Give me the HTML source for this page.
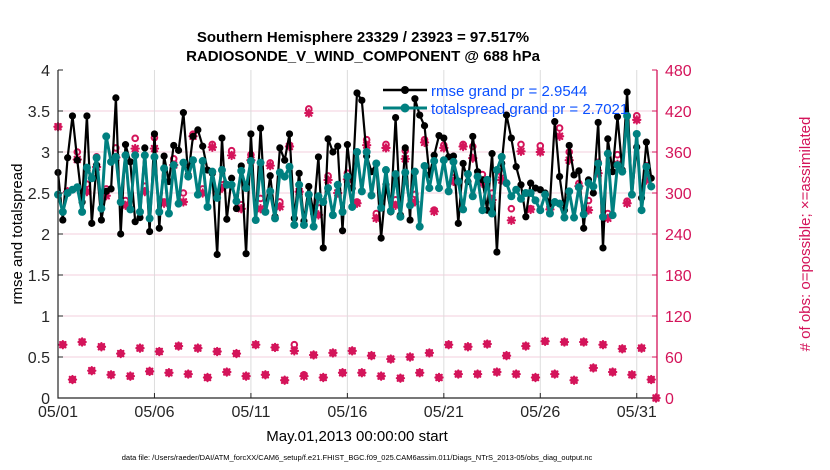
<!DOCTYPE html>
<html><head><meta charset="utf-8"><style>
body{margin:0;background:#fff;}
svg{display:block;font-family:"Liberation Sans",Arial,sans-serif;}
</style></head><body>
<svg id="chart" width="830" height="470" viewBox="0 0 830 470" xmlns="http://www.w3.org/2000/svg">
<rect x="0" y="0" width="830" height="470" fill="#fff"/>
<g id="grid"></g>
<g id="marks"></g>
<g id="axes"></g>
<text x="363" y="42" text-anchor="middle" font-size="15" font-weight="bold">Southern Hemisphere 23329 / 23923 = 97.517%</text>
<text x="363" y="61" text-anchor="middle" font-size="15" font-weight="bold">RADIOSONDE_V_WIND_COMPONENT @ 688 hPa</text>
<text transform="translate(22,234) rotate(-90)" text-anchor="middle" font-size="15">rmse and totalspread</text>
<text transform="translate(810,234) rotate(-90)" text-anchor="middle" font-size="15" fill="#d4145a"># of obs: o=possible; ×=assimilated</text>
<text x="357" y="441" text-anchor="middle" font-size="15">May.01,2013 00:00:00 start</text>
<text x="357" y="460" text-anchor="middle" font-size="7.5">data file: /Users/raeder/DAI/ATM_forcXX/CAM6_setup/f.e21.FHIST_BGC.f09_025.CAM6assim.011/Diags_NTrS_2013-05/obs_diag_output.nc</text>
<g id="legend">
<g>
<line x1="383" y1="90" x2="427" y2="90" stroke="#000" stroke-width="2.5"/>
<circle cx="405" cy="90" r="4" fill="#000"/>
<text x="431" y="96" font-size="15" fill="#0a50ff">rmse grand pr = 2.9544</text>
</g>
<g>
<line x1="383" y1="108" x2="427" y2="108" stroke="#008080" stroke-width="3"/>
<circle cx="405" cy="108" r="4.5" fill="#008080"/>
<text x="431" y="114" font-size="15" fill="#0a50ff">totalspread grand pr = 2.7021</text>
</g>
</g>
</svg>
<script>
const rmse=[2.75,2.17,2.93,3.44,2.9,2.39,3.44,2.13,2.84,2.17,2.52,2.55,3.66,2.0,3.09,2.88,2.15,2.2,3.05,2.03,3.22,2.07,
2.95,2.64,3.08,3.02,3.48,2.72,3.19,3.27,3.07,2.78,2.74,1.75,3.17,2.18,2.68,2.31,2.83,1.76,3.22,2.17,
3.29,2.27,2.71,2.21,3.05,2.9,3.22,2.19,2.74,2.16,2.58,2.25,2.94,1.83,3.16,3.0,3.07,2.04,3.09,2.56,
3.72,3.63,2.95,2.76,2.86,1.95,2.6,2.27,3.42,2.23,3.05,2.17,3.65,3.45,3.32,2.72,2.96,3.2,3.17,2.94,
2.95,2.13,2.86,2.64,3.19,2.76,2.66,2.29,2.98,1.78,2.86,3.45,3.17,2.82,2.6,2.21,2.62,2.56,2.54,2.5,2.37,
3.37,2.7,2.29,3.08,2.72,2.77,2.07,2.66,2.5,3.36,1.83,3.16,2.76,3.43,2.78,3.73,2.48,3.06,2.44,3.12,2.68];
const spread=[2.48,2.27,2.5,2.54,2.57,2.27,2.81,2.68,2.93,2.31,3.19,2.88,2.94,2.39,2.96,2.3,2.96,2.27,2.96,2.19,2.94,2.27,
2.8,2.25,2.84,2.37,2.87,2.7,2.9,2.48,2.89,2.33,2.76,2.44,2.78,2.6,2.6,2.4,2.77,2.56,2.89,2.17,
2.87,2.27,2.52,2.19,2.75,2.7,2.82,2.11,2.6,2.11,2.48,2.09,2.46,2.39,2.56,2.23,2.6,2.27,2.7,2.33,
3.0,2.52,3.0,2.47,2.86,2.32,2.78,2.28,2.73,2.21,2.75,2.35,2.76,2.09,2.83,2.56,2.89,2.56,2.9,2.52,
2.88,2.64,2.3,2.73,2.46,2.7,2.29,2.66,2.25,2.78,2.94,2.62,2.46,2.54,2.43,2.5,2.5,2.41,2.29,2.48,2.25,
2.39,2.37,2.2,2.52,2.2,2.57,2.24,2.62,2.58,2.86,2.21,2.98,2.23,2.84,2.76,3.44,2.48,3.22,2.29,2.82,2.58];
const possibleMain=[397,302,360,313,353,306,366,289,380,310,381,
287,350,300,386,306,371,312,362,283,356,
292,344,287,370,302,423,286,325,312,329,287,
378,270,371,290,362,298,378,275,370,322,
371,368,327,300,329,277,371,277,369,279,
395,360,314,289,345,270,356,288,413,340,0];
const assimMain=[397,302,349,302,338,296,352,282,365,302,365,
285,341,287,383,300,367,307,355,277,348,
277,340,280,368,302,417,268,319,300,320,285,
370,263,366,282,350,287,374,273,366,317,
368,351,314,290,319,260,361,276,360,276,
383,348,310,275,329,263,342,285,407,319,0];
const possibleOff=[78,27,82,40,75,34,65,32,73,39,68,37,76,35,73,30,68,38,65,32,78,34,74,26,78,34,63,30,66,37,69,37,62,32,57,29,60,37,66,30,78,35,75,35,79,38,62,35,76,30,83,35,82,26,82,44,78,38,72,34,73,27];
const assimOff=[78,27,82,40,75,34,65,32,73,39,68,37,76,35,73,30,68,38,65,32,78,34,74,26,69,32,63,30,66,37,69,37,62,32,57,29,60,37,66,30,78,35,75,35,79,38,62,35,76,30,83,35,82,26,82,44,78,38,72,34,73,27];
const xTickLabels=["05/01","05/06","05/11","05/16","05/21","05/26","05/31"];
const xTickDays=[1,6,11,16,21,26,31];
const leftTicks=[0,0.5,1,1.5,2,2.5,3,3.5,4];
const rightTicks=[0,60,120,180,240,300,360,420,480];

const X0=58,X1=657,Y0=398,Y1=70;
const DMIN=1,DMAX=32.05;
function xs(d){return X0+(d-DMIN)/(DMAX-DMIN)*(X1-X0);}
function yl(v){return Y0-(v/4)*(Y0-Y1);}
function yr(v){return Y0-(v/480)*(Y0-Y1);}
function tOf(i){return 1+0.25*i;}
const NS="http://www.w3.org/2000/svg";
function mk(tag,attrs,parent){const e=document.createElementNS(NS,tag);for(const k in attrs)e.setAttribute(k,attrs[k]);parent.appendChild(e);return e;}
const grid=document.getElementById('grid'),marks=document.getElementById('marks'),axes=document.getElementById('axes');
const PINK="#d4145a";
// grid
rightTicks.forEach(v=>{if(v>0&&v<480){const l=mk('line',{x1:X0,x2:X1,y1:yr(v),y2:yr(v),stroke:'#f3cfdc','stroke-width':1},grid);

}});
xTickDays.forEach(d=>{const l=mk('line',{x1:xs(d),x2:xs(d),y1:Y1,y2:Y0,stroke:'#dcdcdc','stroke-width':1},grid);

});
// obs markers
function drawObs(t,pv,av,name){
  const cx=xs(t);
  const c=mk('circle',{cx:cx,cy:yr(pv),r:2.8,fill:'none',stroke:PINK,'stroke-width':2},marks);
  
  
  const y=yr(av),s=3.6;
  const p=mk('path',{d:`M${cx-s},${y}H${cx+s}M${cx},${y-s}V${y+s}M${cx-s*0.75},${y-s*0.75}L${cx+s*0.75},${y+s*0.75}M${cx-s*0.75},${y+s*0.75}L${cx+s*0.75},${y-s*0.75}`,stroke:PINK,'stroke-width':2.2,'stroke-linecap':'round'},marks);
  
  
}
possibleMain.forEach((v,k)=>drawObs(tOf(2*k),v,assimMain[k],'obs-count-main'));
possibleOff.forEach((v,k)=>drawObs(tOf(2*k+1),v,assimOff[k],'obs-count-offhour'));
// lines
function drawSeries(arr,color,w,r,name){
  const pts=arr.map((v,i)=>xs(tOf(i)).toFixed(1)+','+yl(v).toFixed(1)).join(' ');
  const pl=mk('polyline',{points:pts,fill:'none',stroke:color,'stroke-width':w,'stroke-linejoin':'round'},marks);
  
  
  arr.forEach((v,i)=>{const c=mk('circle',{cx:xs(tOf(i)),cy:yl(v),r:r,fill:color},marks);
  
  });
}
drawSeries(rmse,'#000',2.2,3.6,'rmse');
drawSeries(spread,'#008080',3,4,'totalspread');
// axes
const fr=mk('path',{d:`M${X0},${Y1}V${Y0}H${X1}`,fill:'none',stroke:'#262626','stroke-width':1.2},axes);


const ra=mk('line',{x1:X1,x2:X1,y1:Y1,y2:Y0,stroke:PINK,'stroke-width':1.3},axes);


leftTicks.forEach(v=>{
  mk('line',{x1:X0,x2:X0+5,y1:yl(v),y2:yl(v),stroke:'#262626'},axes);
  const t=mk('text',{x:X0-8,y:yl(v)+6,'text-anchor':'end','font-size':16,fill:'#262626'},axes);
  t.textContent=v;
  
  
});
rightTicks.forEach(v=>{
  mk('line',{x1:X1-5,x2:X1,y1:yr(v),y2:yr(v),stroke:PINK},axes);
  const t=mk('text',{x:X1+8,y:yr(v)+6,'font-size':16,fill:PINK},axes);
  t.textContent=v;
  
  
});
xTickDays.forEach((d,k)=>{
  mk('line',{x1:xs(d),x2:xs(d),y1:Y0,y2:Y0-5,stroke:'#262626'},axes);
  const t=mk('text',{x:xs(d),y:Y0+19,'text-anchor':'middle','font-size':16,fill:'#262626'},axes);
  t.textContent=xTickLabels[k];
  
  
});
</script>
</body></html>
